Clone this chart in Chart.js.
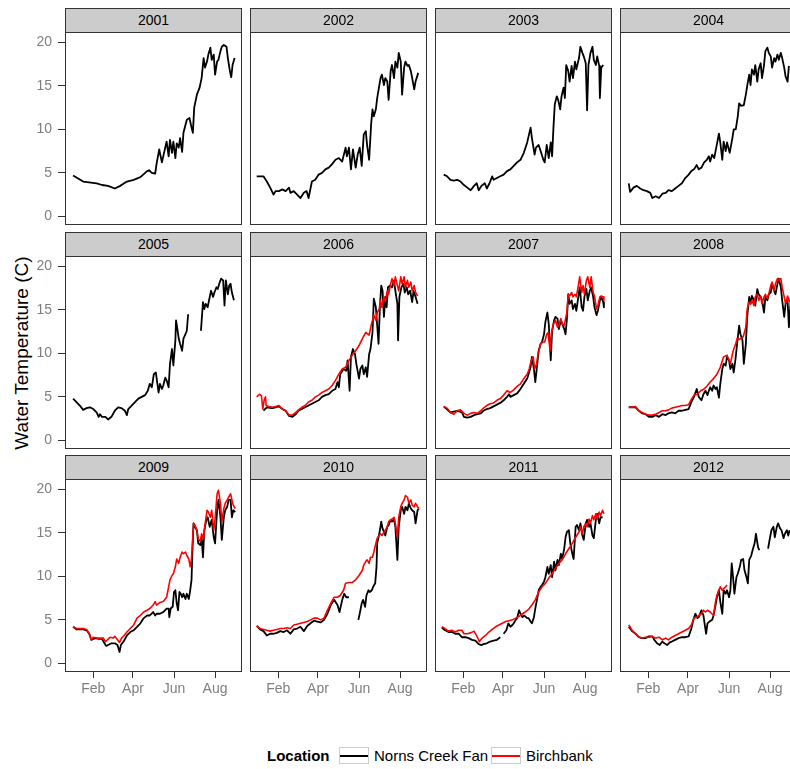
<!DOCTYPE html>
<html lang="en">
<head>
<meta charset="UTF-8">
<title>Water temperature by year</title>
<script src="https://cdn.jsdelivr.net/npm/chart.js"></script>
<style>
  body { margin: 0; background: #fff; font-family: 'Liberation Sans', Arial, sans-serif; }
  #page { position: relative; width: 790px; height: 769px; overflow: hidden; }
  .strip { position: absolute; box-sizing: border-box; height: 25px; background: #cccccc;
           border: 1px solid #333; text-align: center; font-size: 14px; line-height: 22px; color: #000; z-index: 2; }
  .panel { position: absolute; }
  #ytitle { position: absolute; left: -178px; top: 342px; width: 400px; height: 22px; line-height: 22px;
            text-align: center; font-size: 19px; color: #000; transform: rotate(-90deg); }
  .leg { position: absolute; top: 747px; font-size: 15px; line-height: 18px; color: #000; white-space: nowrap; }
  .key { position: absolute; top: 747px; width: 30px; height: 17px; box-sizing: border-box; border: 1px solid #ccc; background: #fff; }
  .key span { position: absolute; left: 0; right: 0; top: 7px; height: 2px; }
</style>
</head>
<body>
<div id="page">
  <div id="ytitle">Water Temperature (C)</div>
  <div class="leg" style="left:267px;font-weight:bold">Location</div>
  <div class="key" style="left:339px"><span style="background:#000"></span></div>
  <div class="leg" style="left:374px">Norns Creek Fan</div>
  <div class="key" style="left:491px"><span style="background:#ff0000"></span></div>
  <div class="leg" style="left:526px">Birchbank</div>
</div>
<script>
// day of year, temperature (C); null marks a gap in the record
const n2001 = [[2,4.7],[17,4.0],[37,3.8],[45,3.6],[54,3.5],[64,3.2],[72,3.5],[82,4.0],[92,4.2],[102,4.5],[112,5.2],[115,5.3],[119,5.0],[124,4.9],[126,6.0],[130,7.7],[134,6.2],[136,6.9],[141,8.6],[144,6.9],[146,8.8],[149,7.3],[151,8.6],[154,6.7],[156,8.4],[159,7.9],[161,9.0],[164,7.4],[166,9.6],[171,11.1],[175,11.3],[178,10.2],[180,9.6],[182,12.5],[186,14.0],[190,14.8],[193,15.9],[196,18.2],[198,17.1],[201,17.8],[203,18.6],[206,19.4],[208,18.0],[211,18.6],[213,16.3],[216,17.8],[218,18.0],[221,19.0],[223,19.5],[226,19.7],[230,19.5],[232,18.2],[235,16.7],[237,16.0],[239,17.4],[242,18.2]];
const n2002 = [[0,4.6],[10,4.6],[15,4.0],[20,3.3],[25,2.5],[28,2.9],[33,2.9],[38,3.1],[43,2.9],[48,3.3],[50,2.7],[55,2.9],[60,2.5],[65,2.1],[70,2.7],[74,2.9],[77,2.1],[82,4.0],[87,4.2],[92,4.8],[97,5.0],[102,5.4],[107,5.6],[112,6.0],[117,6.5],[122,6.7],[127,6.3],[132,7.9],[134,6.9],[137,7.9],[140,5.4],[143,7.7],[147,5.6],[150,7.1],[153,7.9],[156,5.8],[159,9.4],[162,9.8],[164,8.2],[167,6.5],[170,10.6],[172,12.3],[174,11.5],[177,12.3],[179,13.6],[182,15.0],[184,15.9],[186,16.3],[189,15.1],[191,15.9],[194,15.5],[196,13.4],[199,16.7],[201,17.4],[204,15.9],[206,17.8],[209,17.1],[211,18.8],[214,17.8],[216,14.0],[219,17.1],[221,17.8],[224,17.3],[226,17.4],[229,16.7],[231,15.9],[234,14.6],[236,15.5],[240,16.5]];
const n2003 = [[3,4.8],[8,4.6],[13,4.2],[18,4.1],[23,4.2],[28,4.0],[33,3.6],[38,3.3],[43,3.0],[48,3.5],[52,3.8],[55,3.0],[59,3.5],[64,3.8],[67,3.2],[71,3.8],[75,4.6],[77,4.2],[82,4.4],[87,4.6],[92,4.8],[97,5.2],[102,5.4],[107,5.8],[112,6.2],[117,6.5],[122,7.3],[127,8.5],[132,10.2],[134,9.0],[138,7.1],[140,7.9],[144,8.2],[147,7.5],[151,6.5],[153,6.2],[156,8.2],[159,6.7],[162,8.5],[164,6.9],[166,10.2],[168,12.9],[171,13.8],[173,13.4],[176,12.3],[178,13.8],[181,14.8],[183,13.6],[185,17.4],[188,16.7],[190,15.5],[193,17.3],[195,15.9],[198,17.8],[200,16.9],[204,18.2],[206,19.5],[209,18.8],[211,18.4],[214,17.6],[216,12.2],[218,17.4],[221,18.8],[224,19.5],[226,18.0],[229,17.4],[231,18.4],[234,17.3],[235,13.6],[237,17.1],[240,17.4]];
const n2004 = [[3,3.8],[5,2.8],[10,3.3],[15,3.5],[20,3.2],[25,3.0],[30,2.9],[35,2.7],[38,2.1],[43,2.3],[48,2.1],[53,2.6],[58,2.7],[62,3.0],[67,2.9],[72,3.2],[77,3.5],[82,3.8],[87,4.4],[92,4.8],[96,5.2],[100,5.4],[104,5.9],[107,5.4],[111,5.6],[115,6.2],[119,6.5],[122,6.9],[124,6.3],[127,7.1],[130,6.7],[133,7.9],[137,9.5],[139,8.5],[142,6.5],[144,8.6],[147,7.5],[149,8.5],[153,7.3],[157,9.0],[159,10.0],[162,10.0],[165,11.5],[167,13.0],[170,12.7],[174,12.8],[177,14.0],[179,15.0],[182,16.3],[184,15.1],[186,16.9],[189,16.3],[191,17.4],[194,15.5],[196,16.9],[199,17.6],[201,15.9],[204,17.4],[206,19.0],[209,19.4],[211,18.8],[214,18.4],[216,17.1],[219,18.2],[221,17.8],[224,18.6],[226,18.0],[229,18.8],[231,18.2],[234,17.1],[236,16.1],[239,15.5],[241,17.3]];
const n2005 = [[2,4.8],[7,4.4],[12,4.0],[17,3.5],[22,3.7],[27,3.8],[32,3.6],[37,3.2],[40,2.7],[42,3.0],[45,2.7],[50,2.7],[54,2.4],[59,2.7],[64,3.4],[69,3.8],[74,3.7],[79,3.4],[82,2.9],[84,3.6],[89,4.0],[94,4.4],[99,4.8],[104,5.0],[109,5.2],[113,5.7],[116,6.5],[119,6.1],[122,7.6],[125,7.8],[129,5.5],[131,6.5],[134,5.9],[136,6.3],[139,7.2],[141,6.9],[144,6.1],[146,8.8],[149,10.5],[151,8.6],[154,11.5],[155,13.8],[157,12.8],[159,11.7],[161,11.1],[164,10.3],[166,11.7],[169,12.2],[171,12.6],[173,14.5],[180,null],[192,12.6],[195,15.9],[197,15.1],[199,15.7],[202,15.3],[204,16.1],[207,17.2],[210,16.5],[212,17.0],[215,17.6],[217,17.4],[220,18.2],[222,18.6],[225,18.4],[227,15.5],[229,18.4],[232,16.8],[234,17.8],[236,18.0],[238,17.0],[241,16.1]];
const n2006 = [[10,3.4],[15,3.8],[23,3.7],[28,3.8],[33,3.9],[38,3.6],[43,3.4],[48,2.8],[53,2.7],[58,3.0],[62,3.4],[67,3.6],[72,3.8],[77,4.0],[82,4.2],[87,4.4],[92,4.6],[97,5.0],[102,5.2],[107,5.3],[112,5.7],[117,5.9],[120,6.7],[122,6.1],[124,7.6],[129,8.2],[133,8.0],[135,9.2],[138,5.7],[140,9.6],[143,10.5],[146,9.9],[148,8.8],[152,7.1],[154,8.2],[157,8.6],[159,7.6],[162,8.4],[164,7.3],[167,9.9],[169,10.5],[172,12.4],[174,16.3],[177,15.3],[179,13.2],[181,11.1],[183,15.3],[185,17.8],[187,17.2],[189,14.2],[191,16.5],[193,15.3],[195,17.6],[198,17.8],[201,17.6],[204,18.4],[206,17.2],[209,15.7],[210,11.5],[212,16.5],[215,17.6],[218,18.0],[220,17.0],[223,17.6],[225,16.8],[228,17.2],[231,15.9],[233,17.2],[236,16.5],[239,15.7]];
const n2007 = [[3,3.9],[13,3.2],[23,3.4],[30,3.2],[33,2.7],[38,2.6],[43,2.7],[48,2.9],[53,3.0],[58,3.1],[62,3.4],[67,3.6],[72,3.7],[77,3.9],[82,4.1],[87,4.3],[92,4.6],[97,5.0],[100,5.3],[102,5.0],[107,5.2],[112,5.4],[117,5.9],[122,6.5],[127,7.1],[129,7.6],[132,8.4],[134,9.6],[137,8.2],[139,6.7],[142,8.8],[144,10.3],[147,11.1],[149,11.3],[152,12.2],[154,13.6],[157,14.7],[159,13.4],[162,9.2],[164,12.6],[167,13.8],[169,14.2],[172,14.0],[174,12.8],[177,13.8],[179,13.4],[182,12.8],[184,12.2],[186,14.0],[188,16.8],[190,15.7],[193,16.1],[195,15.1],[198,15.7],[200,14.9],[203,16.5],[205,17.6],[208,15.3],[210,14.9],[212,16.5],[215,17.4],[217,16.1],[220,17.2],[222,17.6],[225,16.5],[227,15.3],[230,14.4],[232,14.9],[235,16.1],[237,16.5],[240,15.9],[241,15.3]];
const n2008 = [[3,3.8],[13,3.8],[18,3.4],[23,3.1],[28,3.0],[33,2.7],[38,2.7],[43,2.9],[48,2.7],[53,3.0],[58,2.9],[62,3.1],[67,3.2],[72,3.1],[77,3.4],[82,3.4],[87,3.5],[92,3.6],[96,4.4],[100,5.0],[104,5.9],[107,5.0],[111,4.6],[114,5.3],[117,5.7],[120,5.2],[122,5.7],[124,6.1],[127,5.7],[129,6.3],[132,5.9],[134,6.1],[137,4.9],[139,6.5],[142,8.2],[144,8.8],[147,8.6],[149,9.6],[152,9.2],[154,8.2],[157,8.8],[159,7.8],[162,9.6],[164,11.1],[167,13.2],[169,12.2],[172,11.5],[174,8.8],[177,11.1],[179,14.2],[182,16.5],[184,15.7],[186,16.6],[189,16.1],[191,15.5],[194,17.4],[196,16.8],[199,16.5],[201,16.1],[204,14.7],[206,16.5],[209,16.1],[211,16.8],[214,17.0],[216,18.0],[219,17.2],[221,16.8],[224,18.0],[226,18.6],[229,17.6],[231,16.1],[234,14.2],[236,15.7],[239,16.1],[241,13.0],[244,16.5]];
const n2009 = [[2,4.2],[7,3.9],[12,3.9],[17,3.9],[22,3.8],[26,3.4],[29,2.7],[35,2.9],[40,2.8],[45,2.8],[48,2.4],[51,2.0],[54,2.1],[59,2.3],[64,2.3],[68,2.1],[71,1.3],[73,2.1],[77,2.5],[82,3.2],[87,3.6],[92,3.8],[97,4.2],[102,4.6],[107,5.2],[112,5.5],[116,5.5],[121,5.9],[124,5.5],[126,5.7],[131,5.7],[136,5.9],[141,6.3],[144,6.3],[145,5.3],[147,6.3],[150,6.5],[152,8.2],[154,8.4],[156,6.9],[158,6.1],[160,8.2],[162,8.0],[164,7.6],[166,8.0],[169,7.4],[171,8.0],[174,7.4],[176,8.4],[178,9.6],[179,12.2],[181,16.1],[183,15.7],[186,15.3],[188,13.8],[191,13.6],[193,14.5],[195,12.2],[197,15.3],[200,16.5],[202,16.8],[205,15.7],[208,16.5],[211,14.5],[213,13.8],[216,17.6],[218,18.8],[221,16.8],[223,14.2],[226,16.8],[228,17.6],[231,18.0],[233,18.8],[236,18.8],[238,16.8],[240,17.6],[243,17.4]];
const n2010 = [[0,4.3],[5,3.9],[10,3.7],[15,3.2],[20,3.4],[25,3.4],[30,3.5],[35,3.7],[40,3.6],[45,3.8],[50,3.4],[55,3.9],[60,4.0],[65,4.2],[70,3.7],[75,4.3],[80,4.6],[85,4.9],[90,4.8],[95,4.7],[100,5.0],[105,5.7],[110,6.7],[115,7.3],[120,6.7],[123,5.9],[127,7.3],[130,8.0],[133,7.6],[137,7.6],[144,null],[151,5.0],[153,5.7],[156,6.9],[158,7.3],[161,6.5],[163,7.8],[166,8.4],[168,8.2],[171,8.4],[173,8.8],[176,9.2],[178,11.1],[179,13.8],[181,14.5],[183,15.3],[185,16.3],[187,15.5],[189,15.1],[191,14.7],[194,15.7],[196,15.9],[199,16.5],[201,16.3],[204,16.6],[206,15.7],[209,11.9],[211,15.7],[214,17.6],[216,18.0],[219,17.2],[221,18.0],[224,17.6],[226,18.4],[229,17.8],[231,17.6],[234,17.4],[236,16.1],[239,17.6],[241,17.8]];
const n2011 = [[0,4.1],[5,3.8],[10,3.6],[15,3.6],[20,3.4],[25,3.4],[30,3.0],[35,3.0],[40,2.9],[45,2.7],[50,2.6],[55,2.2],[59,2.1],[62,2.2],[67,2.3],[72,2.5],[77,2.6],[82,2.7],[87,3.0],[90,null],[92,3.4],[96,3.8],[99,4.6],[102,4.2],[105,4.4],[107,4.6],[110,5.0],[112,5.2],[115,6.1],[117,5.7],[120,5.3],[122,5.5],[124,5.4],[127,5.2],[129,5.2],[132,4.8],[134,4.6],[137,5.3],[139,6.3],[142,7.5],[144,8.4],[147,8.8],[149,9.0],[152,9.4],[154,9.9],[157,11.1],[159,10.3],[162,11.3],[164,9.9],[167,11.7],[169,10.7],[172,11.9],[174,11.3],[177,12.6],[179,12.0],[182,13.2],[184,14.5],[186,15.1],[189,15.3],[191,13.8],[194,12.6],[196,12.0],[199,15.7],[201,15.9],[204,15.3],[206,16.1],[209,14.7],[211,14.2],[214,16.1],[216,16.5],[219,15.7],[221,16.1],[224,14.7],[226,14.4],[229,16.5],[231,17.2],[234,16.1],[236,16.8],[239,16.8]];
const n2012 = [[3,4.2],[8,3.7],[13,3.4],[18,3.0],[23,2.9],[28,2.9],[33,3.1],[38,3.1],[41,2.7],[45,2.3],[49,2.1],[53,2.5],[56,2.3],[60,2.1],[64,2.4],[67,2.5],[72,2.7],[77,2.9],[82,3.0],[87,3.0],[92,3.1],[96,4.0],[99,5.0],[102,5.7],[105,5.2],[107,5.3],[111,6.1],[114,5.5],[116,4.4],[118,3.4],[120,4.6],[123,4.8],[127,5.0],[129,5.5],[132,6.7],[134,7.6],[137,8.4],[139,7.1],[142,5.7],[144,8.4],[147,8.0],[149,8.4],[152,7.6],[154,8.4],[156,11.5],[158,9.9],[160,8.0],[163,9.9],[165,10.3],[168,11.1],[170,11.9],[173,12.0],[175,10.7],[178,9.9],[180,9.2],[182,11.9],[185,12.4],[187,13.0],[190,13.8],[192,14.9],[195,13.4],[197,13.0],[203,null],[210,13.2],[213,14.5],[215,15.3],[218,15.7],[220,14.5],[223,15.7],[225,16.1],[228,15.5],[230,15.3],[233,14.4],[235,14.9],[238,15.3],[240,14.7],[242,15.3]];

const b2006 = [[0,5.0],[4,5.3],[7,5.1],[9,3.6],[11,4.6],[13,5.0],[14,4.0],[18,3.9],[23,3.8],[28,3.9],[33,4.0],[38,3.6],[43,3.4],[48,2.9],[53,2.9],[58,3.2],[62,3.5],[67,3.8],[72,4.0],[77,4.4],[82,4.6],[87,5.0],[92,5.2],[97,5.5],[102,5.7],[107,5.9],[112,6.3],[117,6.9],[122,7.6],[127,8.2],[132,8.4],[137,9.2],[142,9.8],[147,10.3],[152,10.9],[157,11.7],[162,12.4],[167,12.1],[170,13.2],[174,14.4],[177,13.8],[179,14.7],[182,15.1],[184,16.1],[186,15.3],[189,16.5],[191,15.9],[194,17.2],[196,16.8],[199,18.0],[201,18.6],[204,17.8],[206,18.8],[209,17.8],[211,17.2],[214,18.8],[216,18.0],[219,18.8],[221,17.6],[224,18.4],[226,17.6],[229,18.2],[231,17.2],[234,17.8],[236,17.0],[239,16.6]];
const b2007 = [[3,3.9],[8,3.7],[13,3.2],[18,3.0],[23,3.4],[28,3.5],[33,3.1],[38,2.9],[43,3.1],[48,3.2],[53,3.1],[58,3.4],[62,3.7],[67,4.0],[72,4.2],[77,4.3],[82,4.6],[87,4.8],[92,5.2],[97,5.7],[102,5.5],[107,5.8],[112,6.2],[117,6.5],[122,7.1],[127,7.6],[130,8.2],[133,9.2],[136,9.6],[138,8.2],[141,8.8],[143,9.9],[147,11.1],[150,11.3],[153,11.3],[156,12.2],[158,12.4],[161,10.3],[163,12.2],[166,13.4],[169,13.8],[172,13.0],[174,13.2],[177,14.0],[179,13.4],[182,13.2],[184,14.0],[186,14.7],[188,16.8],[190,16.6],[193,17.0],[195,16.5],[198,16.8],[200,16.5],[203,17.8],[205,18.8],[208,17.0],[210,17.8],[212,16.8],[215,18.4],[217,18.8],[220,17.6],[222,18.8],[225,17.0],[227,16.6],[230,15.1],[232,15.5],[235,16.5],[237,16.6],[240,16.5],[241,16.1]];
const b2008 = [[3,3.8],[8,3.8],[13,3.9],[18,3.4],[23,3.2],[28,3.0],[33,2.9],[38,2.9],[43,3.0],[48,3.2],[53,3.4],[58,3.4],[62,3.5],[67,3.7],[72,3.8],[77,3.9],[82,4.0],[87,4.0],[92,4.1],[96,4.7],[100,5.2],[105,5.3],[110,5.7],[115,5.9],[120,6.3],[124,6.7],[129,7.1],[134,7.6],[139,8.4],[144,9.6],[149,9.8],[152,9.2],[154,8.8],[157,9.9],[159,10.5],[162,11.1],[164,11.7],[167,11.6],[169,11.7],[173,11.9],[177,13.0],[179,15.1],[182,15.9],[184,15.7],[186,16.1],[189,15.5],[191,16.5],[194,16.8],[196,16.1],[199,16.6],[201,15.7],[204,16.5],[206,16.8],[209,16.3],[211,16.8],[214,17.8],[216,18.2],[219,17.2],[221,18.0],[224,18.6],[226,18.4],[229,18.6],[231,17.6],[234,16.5],[236,15.7],[239,16.6],[241,16.1],[244,15.9]];
const b2009 = [[2,4.2],[7,4.0],[12,4.0],[17,4.0],[22,3.9],[26,3.4],[29,2.7],[32,3.0],[37,2.9],[42,2.9],[47,2.9],[50,2.5],[53,2.7],[57,3.0],[62,2.9],[64,3.1],[68,2.7],[71,2.4],[74,2.9],[78,3.2],[82,3.6],[87,4.0],[92,4.4],[97,5.2],[102,5.5],[107,5.9],[112,6.1],[116,6.3],[121,6.7],[124,7.1],[126,6.7],[131,7.0],[136,7.1],[141,7.6],[144,8.8],[146,9.6],[149,10.1],[151,10.3],[154,11.1],[156,12.0],[159,11.5],[161,12.2],[164,12.8],[166,12.6],[169,12.8],[171,12.4],[174,12.0],[176,11.1],[178,12.0],[181,16.1],[183,15.9],[186,15.3],[188,14.3],[191,14.0],[193,14.9],[196,14.3],[198,15.9],[201,17.6],[203,17.4],[206,16.8],[208,17.6],[211,15.3],[213,16.6],[216,19.5],[218,19.9],[221,18.4],[223,16.3],[226,17.8],[228,18.4],[231,18.8],[233,19.1],[236,19.5],[238,18.8],[240,18.2],[243,17.8]];
const b2010 = [[0,4.3],[5,4.0],[10,3.9],[15,3.8],[20,3.7],[25,3.8],[30,3.9],[35,4.0],[40,4.0],[45,4.1],[50,4.0],[55,4.4],[60,4.5],[65,4.6],[70,4.7],[75,4.8],[80,5.0],[85,5.2],[90,5.2],[95,5.0],[100,5.2],[105,6.1],[110,6.9],[115,7.6],[120,7.6],[124,7.8],[129,8.4],[132,9.2],[137,9.3],[142,9.3],[147,9.6],[152,10.1],[157,10.7],[159,11.3],[162,11.7],[164,11.9],[167,11.5],[169,12.2],[172,12.2],[174,12.8],[177,13.8],[179,14.4],[182,14.7],[184,14.9],[186,14.7],[189,15.1],[191,15.3],[194,15.7],[196,16.3],[199,16.5],[201,16.6],[204,16.8],[206,16.1],[209,14.5],[211,16.8],[214,18.0],[216,18.4],[219,18.8],[221,19.3],[224,19.1],[226,18.4],[229,18.8],[231,18.2],[234,18.0],[236,18.4],[239,18.0],[241,17.8]];
const b2011 = [[0,4.2],[5,4.0],[10,3.7],[15,3.8],[20,3.6],[25,3.8],[30,3.8],[33,3.4],[38,3.4],[43,3.5],[48,3.7],[53,3.0],[56,2.5],[60,2.9],[65,3.2],[70,3.6],[75,3.9],[80,4.2],[85,4.4],[90,4.6],[95,4.8],[100,4.9],[105,5.0],[110,5.2],[115,5.4],[120,5.7],[124,5.9],[129,6.2],[134,6.7],[139,7.3],[144,8.2],[149,8.8],[154,9.2],[159,9.8],[164,10.3],[169,10.9],[174,11.5],[179,11.9],[184,12.6],[189,13.2],[194,13.8],[199,14.5],[204,15.1],[206,15.7],[209,14.9],[211,15.7],[214,16.1],[216,15.7],[219,16.6],[221,16.1],[224,17.0],[226,16.5],[229,17.2],[231,16.6],[234,17.4],[236,17.0],[239,17.6],[241,17.2]];
const b2012 = [[3,4.4],[8,3.8],[13,3.4],[18,3.0],[23,2.9],[28,3.0],[33,3.0],[38,3.1],[43,2.9],[48,3.0],[53,2.7],[58,2.9],[62,2.7],[67,3.0],[72,3.2],[77,3.4],[82,3.6],[87,3.8],[92,4.0],[96,4.4],[100,5.2],[104,5.3],[107,5.5],[111,5.7],[114,6.1],[117,5.9],[120,6.1],[124,5.9],[129,5.5],[132,7.1],[134,7.8],[137,8.4],[139,8.8],[142,8.4],[144,8.6],[147,8.8],[149,9.0]];

const years = [2001, 2002, 2003, 2004, 2005, 2006, 2007, 2008, 2009, 2010, 2011, 2012];
const norns = [n2001, n2002, n2003, n2004, n2005, n2006, n2007, n2008, n2009, n2010, n2011, n2012];
const birch = [null, null, null, null, null, b2006, b2007, b2008, b2009, b2010, b2011, b2012];

const monthDays = [32, 91, 152, 213];
const monthLabels = ['Feb', 'Apr', 'Jun', 'Aug'];
const tempTicks = [0, 5, 10, 15, 20];

// facet geometry
const colX = [65, 250, 435, 620];
const rowY = [32, 256, 479];
const PW = 177, PH = 193;
const YAXIS_W = 40, XAXIS_H = 32;

Chart.defaults.font.family = "'Liberation Sans', Arial, sans-serif";

const panelBox = {
  id: 'panelBox',
  afterDatasetsDraw(chart) {
    const { ctx, chartArea: a } = chart;
    ctx.save();
    ctx.strokeStyle = '#333';
    ctx.lineWidth = 1;
    ctx.strokeRect(a.left + 0.5, a.top + 0.5, a.right - a.left - 1, a.bottom - a.top - 1);
    ctx.restore();
  }
};

const page = document.getElementById('page');

years.forEach(function (yr, i) {
  const col = i % 4, row = Math.floor(i / 4);
  const showY = col === 0, showX = row === 2;

  const strip = document.createElement('div');
  strip.className = 'strip';
  strip.style.left = colX[col] + 'px';
  strip.style.top = (rowY[row] - 24) + 'px';
  strip.style.width = PW + 'px';
  strip.textContent = yr;
  page.appendChild(strip);

  const w = PW + (showY ? YAXIS_W : 0);
  const h = PH + (showX ? XAXIS_H : 0);
  const box = document.createElement('div');
  box.className = 'panel';
  box.style.left = (colX[col] - (showY ? YAXIS_W : 0)) + 'px';
  box.style.top = rowY[row] + 'px';
  const cv = document.createElement('canvas');
  cv.width = w; cv.height = h;
  cv.style.width = w + 'px'; cv.style.height = h + 'px';
  box.appendChild(cv);
  page.appendChild(box);

  const datasets = [];
  if (birch[i]) {
    datasets.push({ label: 'Birchbank', data: birch[i], borderColor: '#ff0000', borderWidth: 1.6 });
  }
  datasets.push({ label: 'Norns Creek Fan', data: norns[i], borderColor: '#000000', borderWidth: 1.8 });

  new Chart(cv, {
    type: 'line',
    data: { datasets: datasets },
    options: {
      responsive: false,
      animation: false,
      devicePixelRatio: 1,
      layout: { padding: 0 },
      elements: { point: { radius: 0 }, line: { tension: 0, borderJoinStyle: 'round' } },
      plugins: { legend: { display: false }, tooltip: { enabled: false } },
      scales: {
        x: {
          type: 'linear', min: -10, max: 253, display: showX,
          afterBuildTicks: function (s) { s.ticks = monthDays.map(v => ({ value: v })); },
          afterFit: function (s) {
            if (showX) { s.height = XAXIS_H; }
            s.paddingLeft = 0; s.paddingRight = 0;
          },
          grid: { drawOnChartArea: false, drawTicks: true, tickLength: 6, color: '#333' },
          border: { display: false },
          ticks: {
            autoSkip: false, maxRotation: 0, padding: 3, color: '#7f7f7f', font: { size: 14 },
            callback: function (v) { return monthLabels[monthDays.indexOf(v)]; }
          }
        },
        y: {
          type: 'linear', min: -1.0, max: 21.2, display: showY,
          afterBuildTicks: function (s) { s.ticks = tempTicks.map(v => ({ value: v })); },
          afterFit: function (s) {
            if (showY) { s.width = YAXIS_W; }
            s.paddingTop = 0; s.paddingBottom = 0;
          },
          grid: { drawOnChartArea: false, drawTicks: true, tickLength: 7, color: '#333' },
          border: { display: false },
          ticks: { padding: 6, color: '#7f7f7f', font: { size: 14 } }
        }
      }
    },
    plugins: [panelBox]
  });
});
</script>
</body>
</html>
